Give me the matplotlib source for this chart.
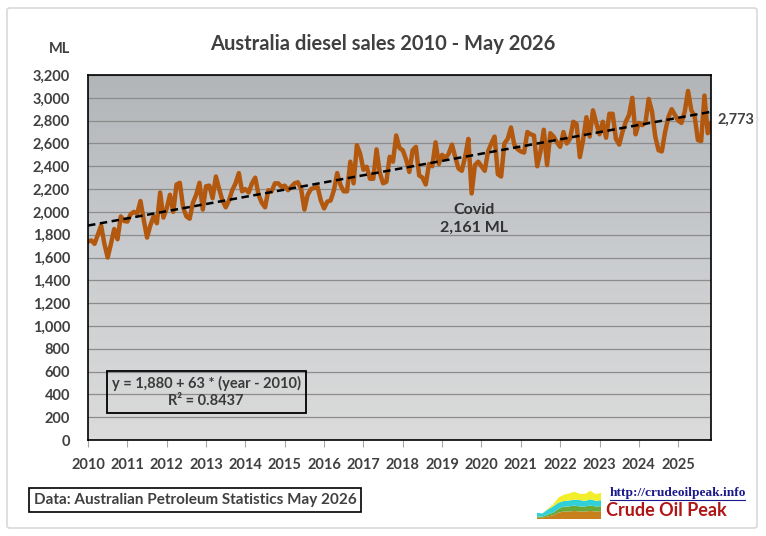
import matplotlib
matplotlib.use("Agg")
import matplotlib.pyplot as plt
from matplotlib.patches import FancyBboxPatch, Rectangle
import numpy as np

plt.rcParams['font.family'] = ['Lato', 'DejaVu Sans']

# monthly diesel sales (ML), Jul 2010 - May 2026
sales = [
    1740, 1750, 1720, 1800, 1880, 1720, 1600, 1720, 1850, 1760, 1960, 1920,
    1915, 1980, 2000, 1985, 2095, 1930, 1775, 1880, 1960, 1900, 2170, 1950,
    2030, 2150, 2000, 2240, 2255, 2040, 1960, 1940, 2080, 2150, 2255, 2020,
    2225, 2230, 2120, 2310, 2200, 2100, 2040, 2100, 2190, 2250, 2340, 2180,
    2200, 2170, 2250, 2300, 2150, 2080, 2040, 2190, 2180, 2250, 2250, 2220,
    2230, 2190, 2220, 2250, 2260, 2200, 2020, 2150, 2200, 2210, 2220, 2100,
    2030, 2090, 2100, 2190, 2340, 2235, 2180, 2180, 2440, 2250, 2585, 2510,
    2370, 2395, 2290, 2290, 2548, 2340, 2250, 2264, 2483, 2440, 2670, 2560,
    2540, 2460, 2350, 2540, 2570, 2320, 2300, 2240, 2420, 2400, 2610, 2420,
    2500, 2470, 2510, 2590, 2480, 2380, 2360, 2480, 2640, 2161, 2410, 2440,
    2400, 2360, 2530, 2600, 2660, 2330, 2310, 2600, 2640, 2740, 2590, 2550,
    2530, 2520, 2700, 2680, 2670, 2400, 2530, 2720, 2410, 2690, 2660, 2610,
    2570, 2700, 2600, 2640, 2790, 2770, 2480, 2630, 2830, 2660, 2890, 2780,
    2680, 2790, 2650, 2860, 2860, 2640, 2590, 2700, 2790, 2850, 3000, 2680,
    2780, 2760, 2780, 2990, 2880, 2660, 2540, 2530, 2700, 2830, 2900, 2850,
    2800, 2780, 2880, 3060, 2890, 2840, 2630, 2620, 3020, 2690, 2773,
]
year_labels = [str(y) for y in range(2010, 2026)]
trend_intercept = 1880
trend_slope = 63
r_squared = 0.8437

# little logo chart (stacked layers)
logo_x = [0, 1, 2, 3, 4, 5, 6, 7, 8, 9, 10, 11, 12]
logo_layers = [
    [0.5, 0.5, 1, 1.5, 2.5, 3, 3, 3.2, 3, 3, 3.2, 3, 3.1],
    [0.5, 0.5, 0.8, 1, 1.5, 2, 2, 2.2, 2, 2, 2.2, 2, 2],
    [1.5, 1.2, 2, 2.5, 2.5, 2.2, 2.4, 2.3, 2.6, 2.2, 2.5, 2.3, 2.4],
    [0, 0, 0.3, 0.8, 2, 2.5, 2.8, 3.2, 2.5, 2.8, 3.4, 2.6, 3.0],
]
logo_colors = ['#c8801c', '#6aa83a', '#30d0d8', '#f2ee2a']

W, H = 766, 536
fig = plt.figure(figsize=(W / 100, H / 100), dpi=100)
fig.patch.set_facecolor('white')

# outer light border
fig.patches.append(FancyBboxPatch((7 / W, 8 / H), 750 / W, 520 / H,
                                  boxstyle="round,pad=0,rounding_size=0.004",
                                  transform=fig.transFigure, fill=False,
                                  edgecolor='#d9d9d9', linewidth=1.2))

ax = fig.add_axes([88 / W, 1 - 440 / H, (711 - 88) / W, (440 - 75) / H])

# grey "photo" backdrop as a vertical gradient
grad = np.linspace(0, 1, 256).reshape(-1, 1)
top = np.array([0.70, 0.71, 0.72])
mid = np.array([0.79, 0.80, 0.81])
bot = np.array([0.86, 0.86, 0.86])
rgb = np.where(grad[..., None] < 0.5,
               top + (mid - top) * (grad[..., None] / 0.5),
               mid + (bot - mid) * ((grad[..., None] - 0.5) / 0.5))
ax.imshow(rgb, extent=[0, 1, 0, 1], transform=ax.transAxes,
          aspect='auto', zorder=0, interpolation='bilinear')

x = np.arange(len(sales))
trend = trend_intercept + trend_slope * x / 12

ax.plot(x, sales, color='#b3580f', linewidth=3.2, zorder=3, solid_joinstyle='round')
ax.plot(x, trend, color='black', linewidth=1.8, dashes=(3, 1.8), zorder=4)

ax.set_xlim(0, len(sales) - 1)
ax.set_ylim(0, 3200)
ax.set_yticks(np.arange(0, 3201, 200))
ax.set_yticklabels([f'{v:,}' for v in range(0, 3201, 200)])
ax.set_xticks(np.arange(len(year_labels)) * 12)
ax.set_xticklabels(year_labels)
ax.grid(axis='y', color='#8c8c8c', linewidth=0.9, zorder=1)
ax.set_axisbelow(False)
for s in ax.spines.values():
    s.set_color('black')
    s.set_linewidth(1.2)
    s.set_zorder(5)

txt = '#404040'
ax.tick_params(axis='y', length=0, pad=13, labelsize=10.5, labelcolor=txt)
ax.tick_params(axis='x', length=5, color='#a6a6a6', pad=8, labelsize=10.5, labelcolor=txt)
for lab in ax.get_xticklabels() + ax.get_yticklabels():
    lab.set_fontweight('bold')

fig.text(383 / W, 1 - 44 / H, 'Australia diesel sales 2010 - May 2026',
         ha='center', va='center', fontsize=14.5, fontweight='bold', color=txt)
fig.text(60 / W, 1 - 49 / H, 'ML', ha='center', va='center',
         fontsize=10.5, fontweight='bold', color=txt)

# Covid low and last value labels
covid_idx = sales.index(min(sales[100:]))
ax.annotate(f'Covid\n{sales[covid_idx]:,} ML', xy=(covid_idx, sales[covid_idx]),
            xytext=(2, -7), textcoords='offset points', ha='center', va='top',
            fontsize=11.5, fontweight='bold', color='#333333', linespacing=1.3, zorder=6)
ax.annotate(f'{sales[-1]:,}', xy=(len(sales) - 1, sales[-1]), xytext=(5, 3),
            textcoords='offset points', ha='left', va='center',
            fontsize=10.5, fontweight='bold', color=txt, annotation_clip=False)

# trend equation box
ax.add_patch(Rectangle(((107 - 88) / 623, (440 - 413) / 365), 199 / 623, 42 / 365,
                       transform=ax.transAxes, fill=False, edgecolor='black',
                       linewidth=1.3, zorder=6))
ax.text((206 - 88) / 623, (440 - 392) / 365,
        f'y = {trend_intercept:,} + {trend_slope} * (year - 2010)\nR² = {r_squared}',
        transform=ax.transAxes, ha='center', va='center', fontsize=10.5,
        fontweight='bold', color='#3a3a3a', linespacing=1.25, zorder=6)

# data source box
fig.text(195 / W, 1 - 500 / H, 'Data: Australian Petroleum Statistics May 2026',
         ha='center', va='center', fontsize=11, fontweight='bold', color=txt,
         bbox=dict(boxstyle='square,pad=0.3', facecolor='white', edgecolor='black', linewidth=1.2))

# logo
lax = fig.add_axes([537 / W, 1 - 519 / H, 64 / W, 30 / H])
lax.stackplot(logo_x, logo_layers, colors=logo_colors, linewidth=0)
lax.set_xlim(0, 12)
lax.set_ylim(0, 12)
lax.axis('off')
fig.text(610 / W, 1 - 493 / H, 'http://crudeoilpeak.info', ha='left', va='center',
         fontsize=9.6, fontweight='bold', color='#1a1a8c', family='Liberation Serif')
fig.add_artist(plt.Line2D([610 / W, 745 / W], [1 - 500 / H, 1 - 500 / H],
                          color='#1a1a8c', linewidth=0.8))
fig.text(606 / W, 1 - 511 / H, 'Crude Oil Peak', ha='left', va='center',
         fontsize=13, fontweight='bold', color='#b01515')

fig.savefig('out.png', dpi=100)
